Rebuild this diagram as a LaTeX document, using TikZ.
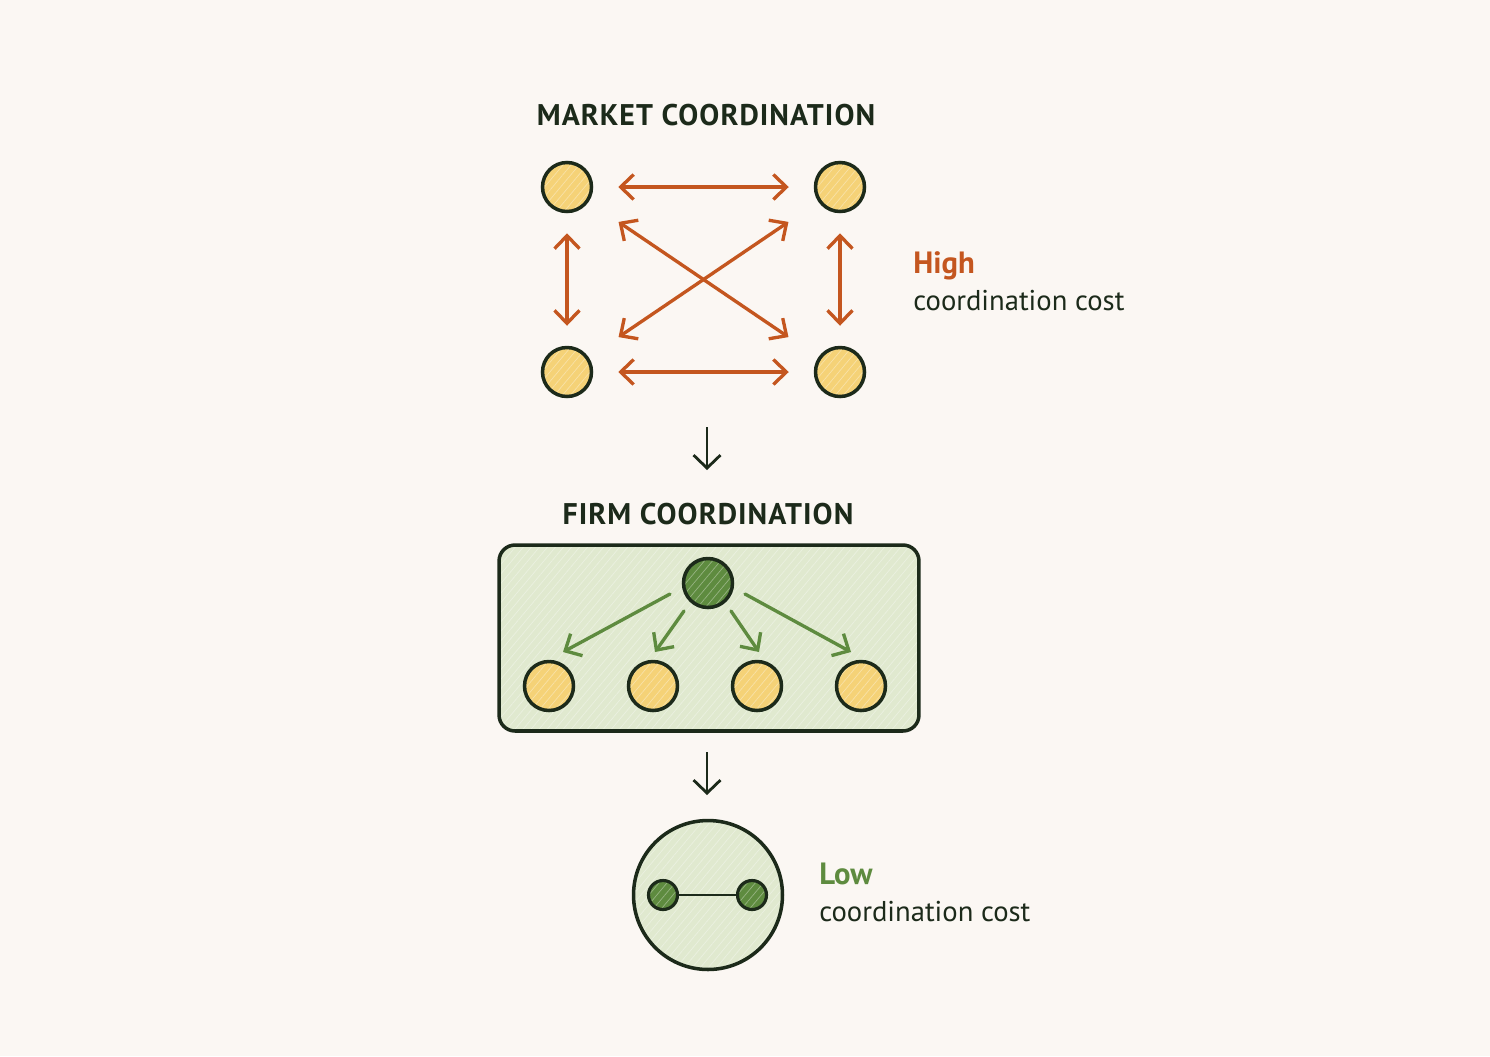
\documentclass[tikz,border=0pt]{standalone}
\usepackage{fontspec}
\setmainfont{PT Sans}
\usetikzlibrary{arrows.meta, patterns.meta}
\definecolor{paper}{HTML}{FBF7F3}
\definecolor{ink}{HTML}{1C2A1A}
\definecolor{rust}{HTML}{C4561F}
\definecolor{gold}{HTML}{F5D277}
\definecolor{leaf}{HTML}{5E8B3F}
\definecolor{sage}{HTML}{E0E9CF}
\tikzset{
  hatch/.style={preaction={fill=#1}, preaction={opacity=0.35, pattern={Lines[angle=50, distance=3.5pt, line width=0.4pt]}, pattern color=white}},
  agent/.style={circle, draw=ink, line width=2pt, hatch=gold, minimum size=0.98cm, inner sep=0pt},
  boss/.style={circle, draw=ink, line width=2pt, hatch=leaf, minimum size=0.98cm, inner sep=0pt},
  deal/.style={draw=rust, line width=1.9pt, line cap=round, {Straight Barb[length=0.26cm, width=0.5cm]}-{Straight Barb[length=0.26cm, width=0.5cm]}},
  order/.style={draw=leaf, line width=1.9pt, line cap=round, -{Straight Barb[length=0.26cm, width=0.5cm]}},
  step down/.style={draw=ink, line width=1.6pt, -{Straight Barb[length=0.26cm, width=0.54cm]}},
  heading/.style={anchor=base, text=ink, font=\fontsize{17}{20}\selectfont\bfseries\addfontfeature{LetterSpace=3.5}},
  costword/.style={anchor=base west, inner sep=0pt, font=\fontsize{17.5}{21}\selectfont\bfseries},
  costline/.style={anchor=base west, inner sep=0pt, text=ink, font=\fontsize{16.3}{19}\selectfont}
}
\begin{document}
\begin{tikzpicture}[x=0.02cm, y=-0.02cm]
		% paper
		\fill[paper] (0, 0) rectangle (1490, 1056);
		\useasboundingbox (0, 0) rectangle (1490, 1056);
		% market: four agents, everyone deals with everyone
		\node[heading] (mtitle) at (706, 125) {MARKET COORDINATION};
		\node[agent] (tl) at (567, 187) {};
		\node[agent] (tr) at (840, 187) {};
		\node[agent] (bl) at (567, 372) {};
		\node[agent] (br) at (840, 372) {};
		\draw[deal, shorten <=0.5cm, shorten >=0.5cm] (tl) -- (tr);
		\draw[deal, shorten <=0.5cm, shorten >=0.5cm] (bl) -- (br);
		\draw[deal, shorten <=0.4cm, shorten >=0.4cm] (tl) -- (bl);
		\draw[deal, shorten <=0.4cm, shorten >=0.4cm] (tr) -- (br);
		\draw[deal, shorten <=0.72cm, shorten >=0.72cm] (tl) -- (br);
		\draw[deal, shorten <=0.72cm, shorten >=0.72cm] (tr) -- (bl);
		\node[costword, text=rust] (high) at (913, 273) {High};
		\node[costline] (highcost) at (913, 310) {coordination cost};
		% first step down
		\coordinate (s1) at (707, 427);
		\coordinate (e1) at (707, 470);
		\draw[step down] (s1) -- (e1);
		% firm: one boss, four agents
		\node[heading] (ftitle) at (708, 524) {FIRM COORDINATION};
		\node[draw=ink, line width=2pt, hatch=sage, rounded corners=0.32cm, minimum width=8.4cm, minimum height=3.72cm] (firm) at (709, 638) {};
		\node[boss] (head) at (708, 583) {};
		\foreach \i/\x in {1/549, 2/653, 3/757, 4/861}
			\node[agent] (w\i) at (\x, 686) {};
		\draw[order] ([shift={(-38, 11)}]head.center) -- ([shift={(14, -34)}]w1.center);
		\draw[order] ([shift={(-24, 28)}]head.center) -- ([shift={(2, -34)}]w2.center);
		\draw[order] ([shift={(23, 28)}]head.center) -- ([shift={(2, -34)}]w3.center);
		\draw[order] ([shift={(37, 11)}]head.center) -- ([shift={(-10, -34)}]w4.center);
		% second step down
		\coordinate (s2) at (707, 752);
		\coordinate (e2) at (707, 795);
		\draw[step down] (s2) -- (e2);
		% one link inside the firm
		\node[circle, draw=ink, line width=2pt, hatch=sage, minimum size=2.98cm] (inside) at (708, 895) {};
		\node[boss, minimum size=0.58cm, line width=1.8pt] (pa) at (663, 895) {};
		\node[boss, minimum size=0.58cm, line width=1.8pt] (pb) at (752, 895) {};
		\draw[ink, line width=1.3pt] (pa) -- (pb);
		\node[costword, text=leaf] (low) at (819, 884) {Low};
		\node[costline] (lowcost) at (819, 921) {coordination cost};
	\end{tikzpicture}
\end{document}
